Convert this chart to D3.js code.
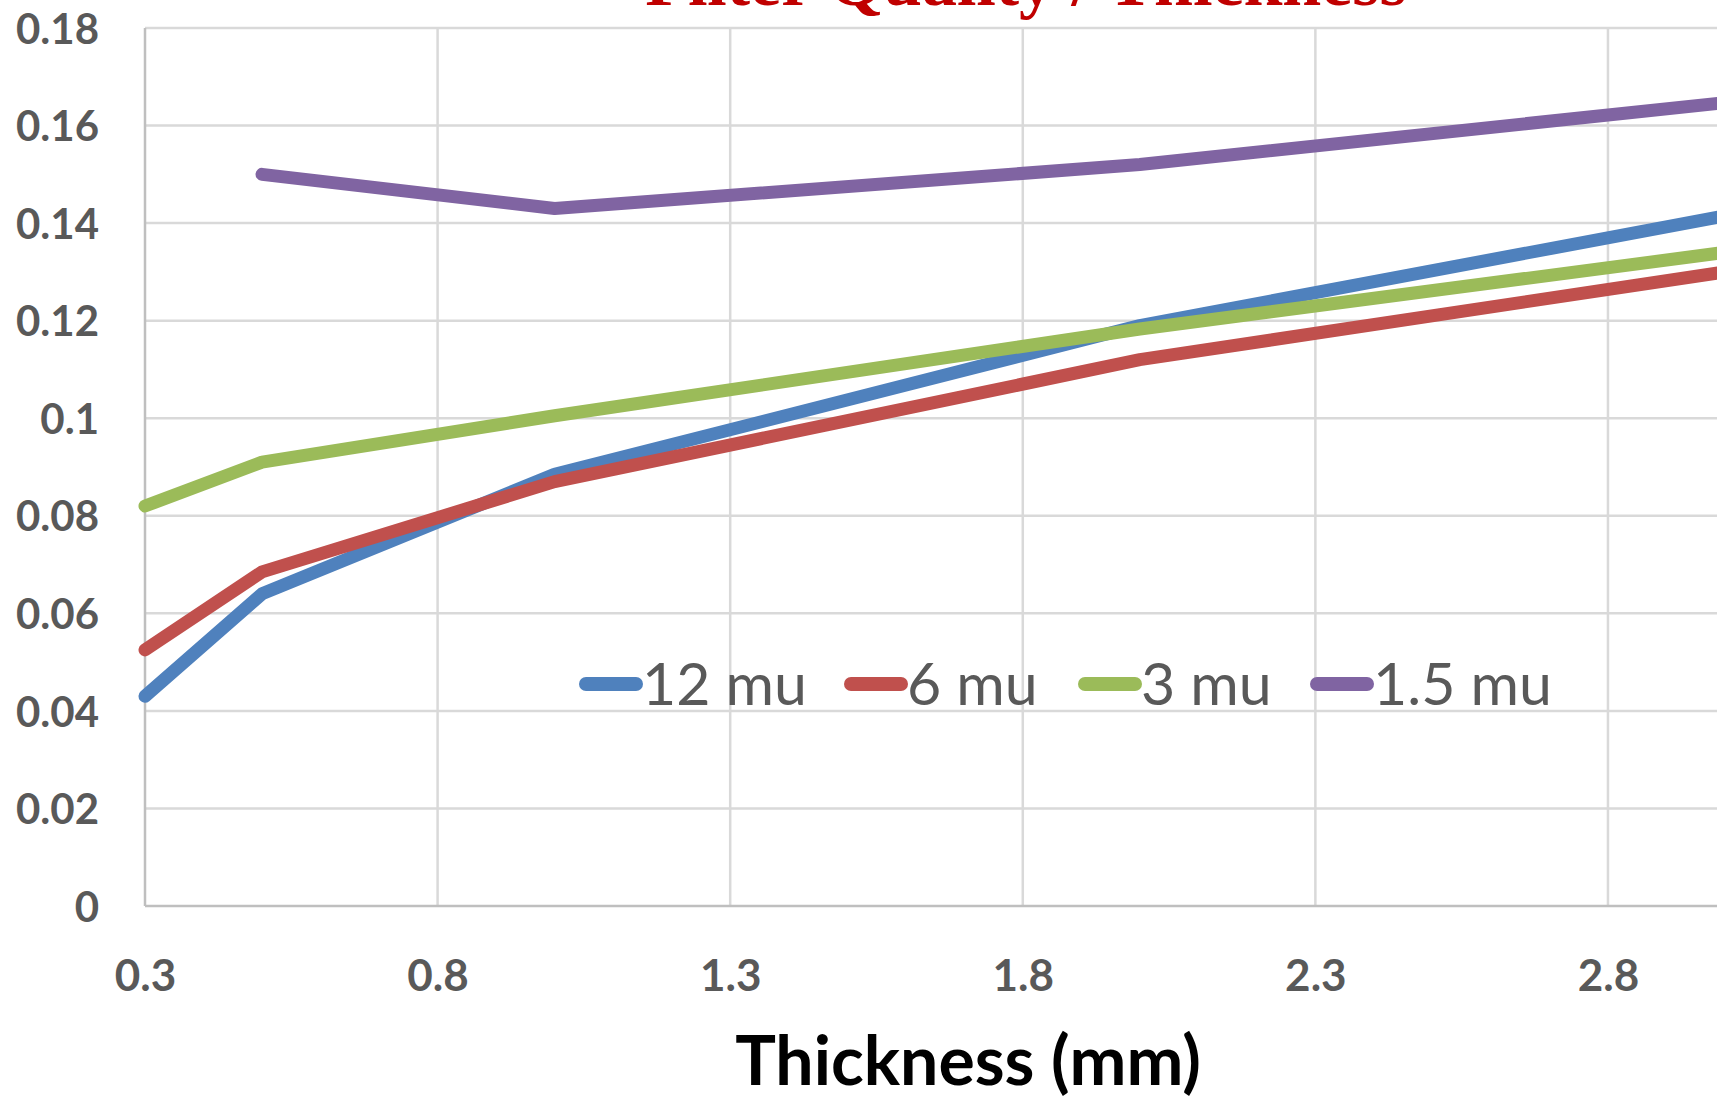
<!DOCTYPE html>
<html>
<head>
<meta charset="utf-8">
<script src="https://cdn.jsdelivr.net/npm/d3@7"></script>
<style>
  html, body { margin:0; padding:0; background:#fff; overflow:hidden; }
  text { font-family: Lato, "Open Sans", sans-serif; }
</style>
</head>
<body>
<div id="chart-area"></div>
<script>
// data
var thickness = [0.3, 0.5, 1.0, 2.0, 3.0];
var seriesNames = ["12 mu", "6 mu", "3 mu", "1.5 mu"];
var mu12 = [0.043, 0.064, 0.0885, 0.119, 0.1415];
var mu6 = [0.0525, 0.0685, 0.087, 0.112, 0.130];
var mu3 = [0.082, 0.091, 0.1005, 0.1183, 0.134];
var mu15 = [null, 0.150, 0.143, 0.152, 0.1647];
var xTicks = [0.3, 0.8, 1.3, 1.8, 2.3, 2.8];
var yTicks = [0, 0.02, 0.04, 0.06, 0.08, 0.1, 0.12, 0.14, 0.16, 0.18];
var colors = ["#4f81bd", "#c0504d", "#9bbb59", "#8064a2"];

var W = 1717, H = 1098;
var margin = {left:145, top:28};
var height = 906 - margin.top;
var width = 1580; // runs off the right edge, like the source

var x = d3.scaleLinear()
        .domain([0.3, 3.0])
        .range([0, width]);

var y = d3.scaleLinear()
        .domain([0, 0.18])
        .range([height, 0]);

var svg = d3.select("#chart-area")
    .append("svg")
    .attr("width", W)
    .attr("height", H);

// title, mostly cut off by the top edge
svg.append("text")
    .attr("x", 1026)
    .attr("y", 5)
    .attr("text-anchor", "middle")
    .style("font-family", "'Liberation Serif', serif")
    .attr("font-size", "70px")
    .attr("font-weight", "bold")
    .attr("fill", "#c00000")
    .text("Filter Quality / Thickness");

var g = svg.append("g")
    .attr("transform", "translate(" + margin.left + "," + margin.top + ")");

// gridlines
g.append("g")
  .selectAll("line.h")
  .data(yTicks.slice(1))
  .enter().append("line")
  .attr("x1", 0).attr("x2", W)
  .attr("y1", d => y(d)).attr("y2", d => y(d))
  .attr("stroke", "#d9d9d9")
  .attr("stroke-width", 2.5);

g.append("g")
  .selectAll("line.v")
  .data(xTicks.slice(1))
  .enter().append("line")
  .attr("x1", d => x(d)).attr("x2", d => x(d))
  .attr("y1", 0).attr("y2", height)
  .attr("stroke", "#d9d9d9")
  .attr("stroke-width", 2.5);

// axes
var leftAxis = d3.axisLeft(y)
    .tickValues(yTicks)
    .tickSize(0)
    .tickPadding(46)
    .tickFormat(d => d3.format("")(+d.toFixed(2)));

g.append("g")
  .attr("class", "y-axis")
  .call(leftAxis);

var bottomAxis = d3.axisBottom(x)
    .tickValues(xTicks)
    .tickSize(0)
    .tickPadding(54)
    .tickFormat(d3.format(".1f"));

g.append("g")
  .attr("class", "x-axis")
  .attr("transform", "translate(0," + height + ")")
  .call(bottomAxis);

g.selectAll(".domain").remove();
g.selectAll(".tick text")
  .attr("font-family", "Lato, sans-serif")
  .attr("font-size", "42px")
  .attr("font-weight", "bold")
  .attr("fill", "#595959");
g.selectAll(".x-axis .tick text").attr("font-size", "44px");
g.selectAll(".y-axis .tick text").attr("dy", "0.36em");

// axis lines
g.append("line")
  .attr("x1", 0).attr("x2", 0)
  .attr("y1", 0).attr("y2", height)
  .attr("stroke", "#bfbfbf").attr("stroke-width", 2.5);
g.append("line")
  .attr("x1", 0).attr("x2", W)
  .attr("y1", height).attr("y2", height)
  .attr("stroke", "#bfbfbf").attr("stroke-width", 2.5);

// x axis label
svg.append("text")
  .attr("x", 968)
  .attr("y", 1085)
  .attr("text-anchor", "middle")
  .attr("font-size", "68px")
  .attr("font-weight", "bold")
  .attr("fill", "#000")
  .text("Thickness (mm)");

// lines
var series = [mu12, mu6, mu3, mu15];
var line = d3.line()
    .defined(d => d[1] != null)
    .x(d => x(d[0]))
    .y(d => y(d[1]));

series.forEach(function(vals, i){
    g.append("path")
      .datum(thickness.map((t, j) => [t, vals[j]]))
      .attr("fill", "none")
      .attr("stroke", colors[i])
      .attr("stroke-width", 13)
      .attr("stroke-linecap", "round")
      .attr("stroke-linejoin", "round")
      .attr("d", line);
});

// legend
var legendX = [580, 845, 1079, 1311];
var legend = svg.append("g");
seriesNames.forEach(function(name, i){
    var row = legend.append("g")
      .attr("transform", "translate(" + legendX[i] + ",684)");
    row.append("line")
      .attr("x1", 6).attr("x2", 56)
      .attr("stroke", colors[i])
      .attr("stroke-width", 14)
      .attr("stroke-linecap", "round");
    row.append("text")
      .attr("x", 62)
      .attr("y", 21)
      .attr("font-size", "59px")
      .attr("fill", "#595959")
      .text(name);
});
</script>
</body>
</html>
